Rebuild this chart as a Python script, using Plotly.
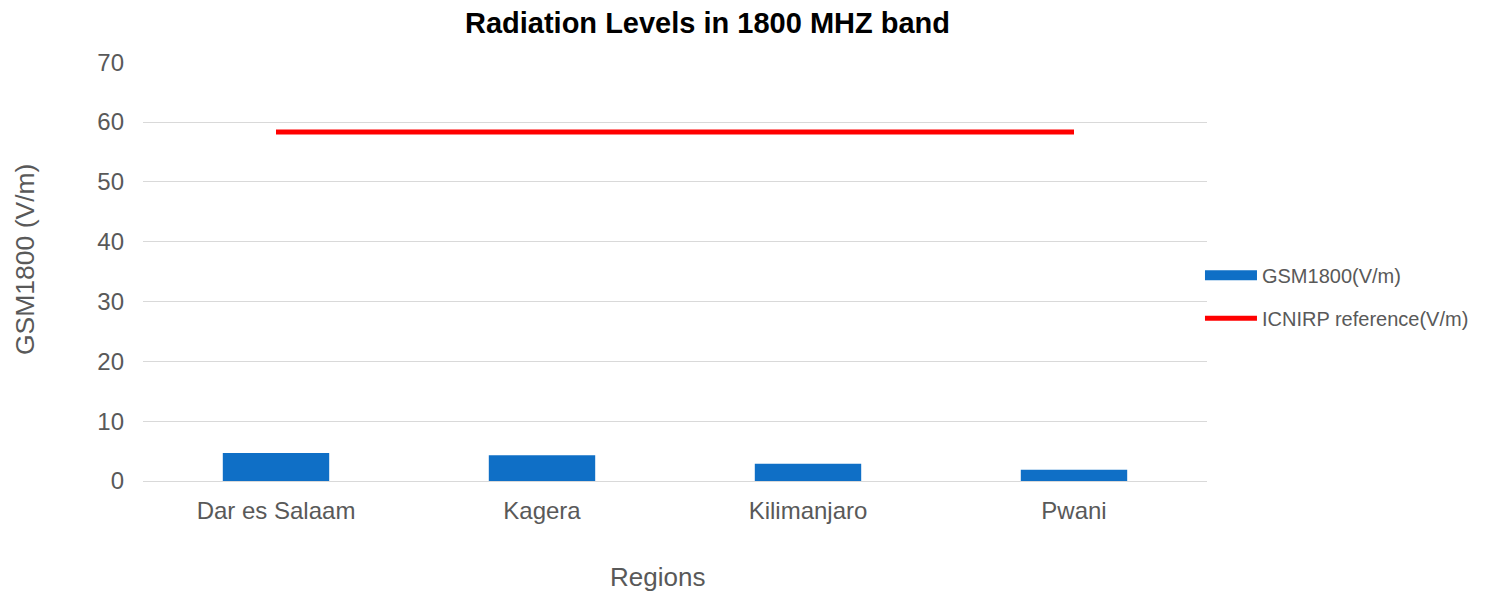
import plotly.graph_objects as go

regions = ["Dar es Salaam", "Kagera", "Kilimanjaro", "Pwani"]
gsm1800 = [4.7, 4.3, 2.9, 1.9]
icnirp = [58.34, 58.34, 58.34, 58.34]
y_ticks = [0, 10, 20, 30, 40, 50, 60, 70]

FONT = "Liberation Sans, Arial, sans-serif"
GREY = "#595959"
BLUE = "#0f6fc6"
RED = "#ff0000"

W, H = 1504, 583  # page body has an 8px default margin

fig = go.Figure()
fig.add_trace(go.Bar(
    x=regions, y=gsm1800, name="GSM1800(V/m)",
    marker=dict(color=BLUE, line=dict(width=0)),
    showlegend=False,
))
# legend entry styled as a wide block, like the reference
fig.add_trace(go.Scatter(
    x=[None], y=[None], name="GSM1800(V/m)", mode="lines",
    line=dict(color=BLUE, width=12), legendgroup="a",
))
fig.add_trace(go.Scatter(
    x=regions, y=icnirp, name="ICNIRP reference(V/m)", mode="lines",
    line=dict(color=RED, width=5),
    legendgroup="b",
))

fig.update_layout(
    width=W, height=H,
    margin=dict(l=135, r=305, t=54, b=110, autoexpand=False),
    paper_bgcolor="white", plot_bgcolor="white",
    bargap=0.6,
    title=dict(text="<b>Radiation Levels in 1800 MHZ band</b>",
               x=699.5 / W, xanchor="center", xref="container",
               y=1 - 15 / H, yanchor="middle", yref="container",
               font=dict(family=FONT, size=29, color="#000000")),
    font=dict(family=FONT, color=GREY),
    legend=dict(x=0.9934, xanchor="left", y=0.44, yanchor="middle",
                font=dict(size=20, color=GREY), itemwidth=52,
                tracegroupgap=14, bgcolor="rgba(0,0,0,0)"),
    showlegend=True,
    annotations=[
        dict(text="Regions", xref="paper", yref="paper",
             x=(657.5 - 143) / 1064, y=0, xanchor="center", yanchor="middle",
             yshift=-(577 - 481), showarrow=False,
             font=dict(family=FONT, size=26, color=GREY)),
        dict(text="GSM1800 (V/m)", xref="paper", yref="paper",
             x=0, y=(481 - 260) / 419, xanchor="center", yanchor="middle",
             xshift=25 - 143, textangle=-90, showarrow=False,
             font=dict(family=FONT, size=26.5, color=GREY)),
    ],
)
fig.update_xaxes(
    tickfont=dict(size=24, color=GREY), automargin=False,
    showgrid=False, showline=True, linecolor="#d9d9d9", linewidth=1,
    ticks="", ticklabelstandoff=8,
)
fig.update_yaxes(
    range=[0, 70.03], tickvals=y_ticks, automargin=False,
    tickfont=dict(size=24, color=GREY),
    showgrid=True, gridcolor="#d9d9d9", gridwidth=1,
    zeroline=True, zerolinecolor="#d9d9d9", zerolinewidth=1,
    showline=False, ticks="", ticklabelstandoff=18,
)

fig.write_html("out.html")
